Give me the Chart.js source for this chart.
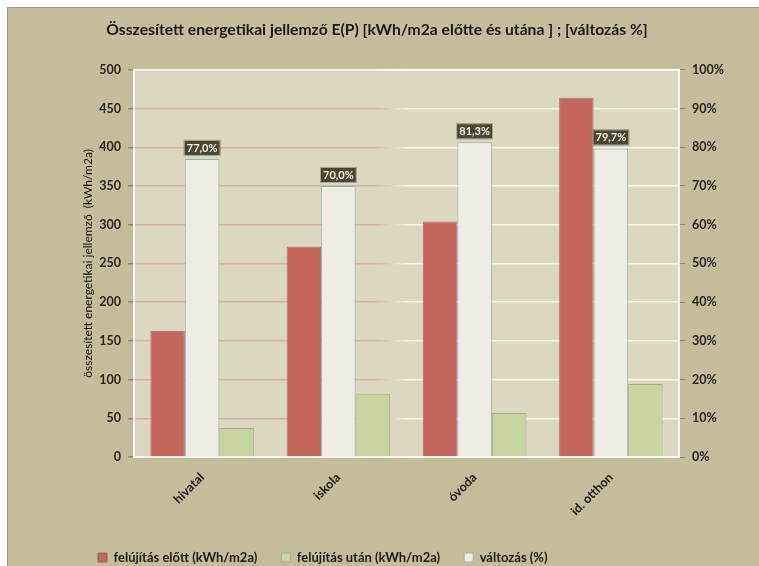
<!DOCTYPE html>
<html>
<head>
<meta charset="utf-8">
<title>Összesített energetikai jellemző</title>
<script src="https://cdn.jsdelivr.net/npm/chart.js@4.4.1/dist/chart.umd.min.js"></script>
<style>
    html, body { margin: 0; padding: 0; background: #fff; overflow: hidden; }
    #frame {
        position: absolute; left: 7px; top: 7px;
        width: 760px; height: 580px;
        background: #c5bd99;
        border-left: 1px solid #9b998c;
        border-top: 1px solid #9b998c;
    }
    #frame canvas { display: block; }
</style>
</head>
<body>
<div id="frame"><canvas id="energia" width="738" height="575"></canvas></div>
<script>
// values
const categories = ['hivatal', 'iskola', 'óvoda', 'id. otthon']
const beforeValues = [163, 272, 304, 464]     // kWh/m2a
const afterValues = [37.5, 81.6, 56.9, 94.2]  // kWh/m2a
const changeValues = [77.0, 70.0, 81.3, 79.7] // %

const seriesNames = ['felújítás előtt (kWh/m2a)', 'változás (%)', 'felújítás után (kWh/m2a)']
// legend shows before, after, change
const legendRank = [0, 2, 1]

const titleText = 'Összesített energetikai jellemző E(P) [kWh/m2a előtte és utána ] ; [változás %]'
const yTitleText = 'összesített energetikai jellemző  (kWh/m2a)'

Chart.defaults.font.family = 'Lato, "Open Sans", sans-serif'
Chart.defaults.color = '#1a1a1a'

function huPercent(v){
    return v.toFixed(1).replace('.', ',') + '%'
}

// grid goes from pinkish on the left to white on the right
function gridGradient(context){
    const chart = context.chart
    const area = chart.chartArea
    if (!area) return 'rgba(215,140,130,0.5)'
    const g = chart.ctx.createLinearGradient(area.left, 0, area.right, 0)
    g.addColorStop(0, 'rgba(215,140,130,0.5)')
    g.addColorStop(0.44, 'rgba(215,140,130,0.5)')
    g.addColorStop(0.5, 'rgba(255,255,255,0.75)')
    g.addColorStop(1, 'rgba(255,255,255,0.75)')
    return g
}

const plotBackground = {
    id: 'plotBackground',
    beforeDraw(chart){
        const {ctx, chartArea: a} = chart
        ctx.save()
        ctx.fillStyle = '#dcd7c1'
        ctx.fillRect(a.left, a.top, a.right - a.left, a.bottom - a.top)
        ctx.restore()
    },
    beforeDatasetsDraw(chart){
        const {ctx, chartArea: a} = chart
        ctx.save()
        ctx.strokeStyle = 'rgba(255,255,255,0.85)'
        ctx.lineWidth = 2
        ctx.strokeRect(a.left, a.top, a.right - a.left, a.bottom - a.top)
        ctx.restore()
    }
}

const legendShift = {
    id: 'legendShift',
    afterLayout(chart){
        chart.legend.left = 66
    }
}

const changeLabels = {
    id: 'changeLabels',
    afterDatasetsDraw(chart){
        const meta = chart.getDatasetMeta(1)
        const ctx = chart.ctx
        ctx.save()
        ctx.font = 'bold 11px Lato, "Open Sans", sans-serif'
        ctx.textAlign = 'center'
        ctx.textBaseline = 'middle'
        meta.data.forEach((bar, i) => {
            const text = huPercent(changeValues[i])
            const w = ctx.measureText(text).width + 6
            const h = 16
            const x = bar.x - w / 2
            const y = bar.y - h - 3
            ctx.fillStyle = '#4b4631'
            ctx.fillRect(x, y, w, h)
            ctx.strokeStyle = 'rgba(235,230,210,0.6)'
            ctx.lineWidth = 1
            ctx.strokeRect(x + 0.5, y + 0.5, w - 1, h - 1)
            ctx.fillStyle = '#f3f0e6'
            ctx.fillText(text, bar.x, y + h / 2 + 0.5)
        })
        ctx.restore()
    }
}

const config = {
    type: 'bar',
    data: {
        labels: categories,
        datasets: [{
            label: seriesNames[0],
            data: beforeValues,
            yAxisID: 'y',
            backgroundColor: '#c5665f',
            borderColor: 'rgba(140,75,70,0.7)',
            borderWidth: 1
        }, {
            label: seriesNames[1],
            data: changeValues,
            yAxisID: 'y1',
            backgroundColor: '#efece4',
            borderColor: '#8fb5bd',
            borderWidth: 1
        }, {
            label: seriesNames[2],
            data: afterValues,
            yAxisID: 'y',
            backgroundColor: '#c9d5a1',
            borderColor: '#a8ae88',
            borderWidth: 1
        }]
    },
    options: {
        responsive: false,
        animation: false,
        layout: {padding: {left: 0, right: 0, top: 0, bottom: 9}},
        datasets: {
            bar: {categoryPercentage: 0.76, barPercentage: 1.0}
        },
        plugins: {
            title: {
                display: true,
                text: titleText,
                color: '#1a1a1a',
                font: {size: 15.7, weight: 'bold'},
                padding: {top: 13, bottom: 30}
            },
            legend: {
                position: 'bottom',
                align: 'start',
                labels: {
                    boxWidth: 9,
                    boxHeight: 9,
                    padding: 24,
                    color: '#1a1a1a',
                    font: {size: 13, weight: 'bold'},
                    sort: (a, b) => legendRank[a.datasetIndex] - legendRank[b.datasetIndex]
                }
            },
            tooltip: {enabled: false}
        },
        scales: {
            x: {
                grid: {display: false, drawTicks: false},
                border: {display: false},
                ticks: {
                    minRotation: 45,
                    maxRotation: 45,
                    padding: 13,
                    color: '#1a1a1a',
                    font: {size: 12.5, weight: 'bold'}
                },
                afterFit(scale){ scale.height = 70 }
            },
            y: {
                position: 'left',
                min: 0,
                max: 500,
                ticks: {
                    stepSize: 50,
                    padding: 7,
                    color: '#262626',
                    font: {size: 12.5, weight: 'bold'}
                },
                grid: {
                    color: gridGradient,
                    lineWidth: 1.5,
                    tickLength: 6,
                    tickColor: '#8d8873'
                },
                border: {display: false},
                title: {
                    display: true,
                    text: yTitleText,
                    color: '#111',
                    font: {size: 12},
                    padding: {top: 73, bottom: 0}
                },
                afterFit(scale){ scale.width = 126 }
            },
            y1: {
                position: 'right',
                min: 0,
                max: 100,
                ticks: {
                    stepSize: 10,
                    padding: 7,
                    color: '#262626',
                    font: {size: 12.5, weight: 'bold'},
                    callback: v => v + '%'
                },
                grid: {
                    drawOnChartArea: false,
                    tickLength: 6,
                    tickColor: '#8d8873'
                },
                border: {display: false},
                afterFit(scale){ scale.width = 67 }
            }
        }
    },
    plugins: [plotBackground, changeLabels, legendShift]
}

const chart = new Chart(document.getElementById('energia'), config)
</script>
</body>
</html>
